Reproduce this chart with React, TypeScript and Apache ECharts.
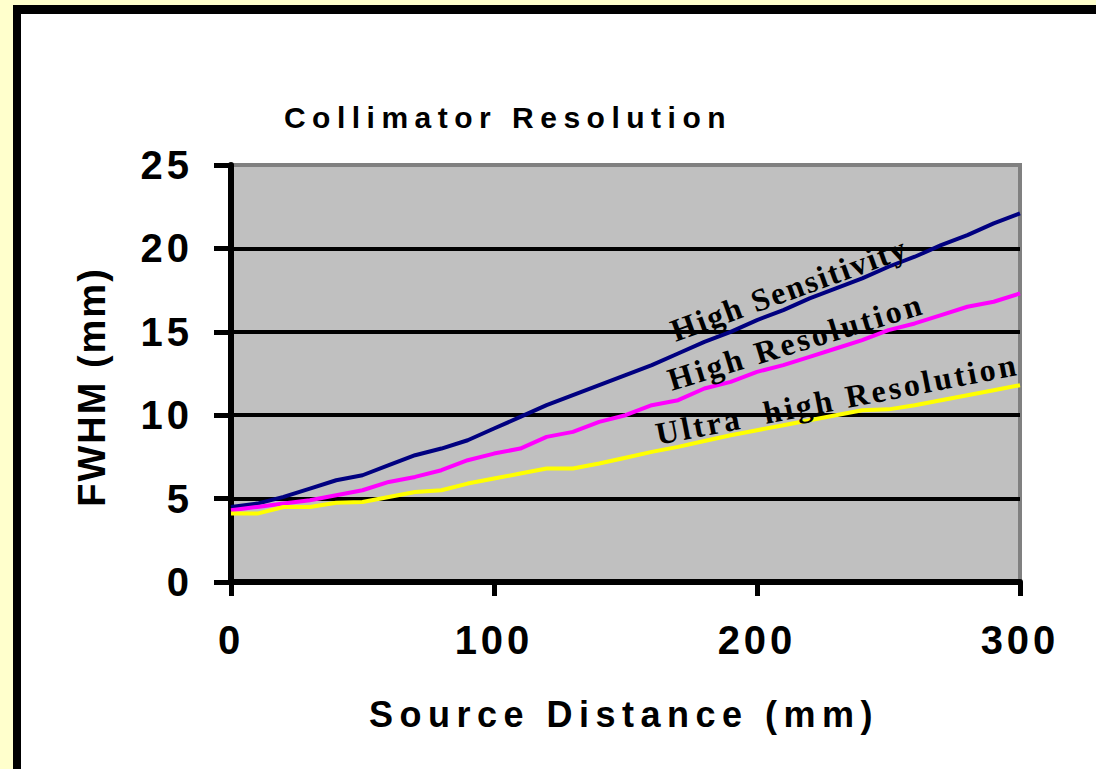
import React, { useEffect, useRef } from "react";
import * as echarts from "echarts";

// Source distance (mm)
const distances = [0, 10, 20, 30, 40, 50, 60, 70, 80, 90, 100, 110, 120, 130, 140, 150, 160, 170, 180, 190, 200, 210, 220, 230, 240, 250, 260, 270, 280, 290, 300];

// FWHM (mm) per collimator
const highSensitivity = [4.5, 4.7, 5.1, 5.6, 6.1, 6.4, 7.0, 7.6, 8.0, 8.5, 9.2, 9.9, 10.6, 11.2, 11.8, 12.4, 13.0, 13.7, 14.4, 15.0, 15.7, 16.3, 17.0, 17.6, 18.2, 18.9, 19.5, 20.2, 20.8, 21.5, 22.1];
const highResolution = [4.3, 4.5, 4.7, 4.9, 5.2, 5.5, 6.0, 6.3, 6.7, 7.3, 7.7, 8.0, 8.7, 9.0, 9.6, 10.0, 10.6, 10.9, 11.6, 12.0, 12.6, 13.0, 13.5, 14.0, 14.5, 15.1, 15.5, 16.0, 16.5, 16.8, 17.3];
const ultraHighResolution = [4.1, 4.1, 4.5, 4.5, 4.75, 4.8, 5.1, 5.4, 5.5, 5.9, 6.2, 6.5, 6.8, 6.8, 7.1, 7.45, 7.8, 8.1, 8.45, 8.8, 9.1, 9.4, 9.7, 10.0, 10.3, 10.35, 10.6, 10.9, 11.2, 11.5, 11.8];

const seriesNames = ["High Sensitivity", "High Resolution", "Ultra  high Resolution"];
const seriesColors = ["#000080", "#FF00FF", "#FFFF00"];

const chartTitle = "Collimator Resolution";
const xAxisName = "Source Distance (mm)";
const yAxisName = "FWHM (mm)";

const spacingFor = (t: string): number => {
  if (t === chartTitle) return 6.5;
  if (t === xAxisName) return 6.5;
  if (t === yAxisName) return 2;
  if (t === seriesNames[0]) return 2;
  if (t === seriesNames[1] || t === seriesNames[2]) return 3;
  if (/^\d+$/.test(t)) return 4;
  return 0;
};

export default function App() {
  const ref = useRef<HTMLDivElement>(null);

  useEffect(() => {
    const el = ref.current;
    if (!el) return;
    const chart = echarts.init(el, undefined, { renderer: "svg" });

    const applySpacing = () => {
      el.querySelectorAll("text").forEach((t) => {
        const s = spacingFor((t.textContent || "").trim());
        if (s) t.setAttribute("letter-spacing", String(s));
      });
    };
    chart.on("finished", applySpacing);

    const toPairs = (vals: number[]) => distances.map((d, i) => [d, vals[i]]);
    const sans = "'Liberation Sans', Arial, sans-serif";
    const serif = "'Liberation Serif', 'Times New Roman', serif";
    const deg = Math.PI / 180;

    chart.setOption({
      animation: false,
      backgroundColor: "transparent",
      grid: {
        left: 231,
        top: 165,
        width: 789,
        height: 417,
        show: true,
        backgroundColor: "#C0C0C0",
        borderColor: "#808080",
        borderWidth: 4,
      },
      xAxis: {
        type: "value",
        min: 0,
        max: 300,
        interval: 100,
        axisLine: { show: true, onZero: false, lineStyle: { color: "#000", width: 6 } },
        axisTick: { show: true, inside: false, length: 14, lineStyle: { color: "#000", width: 5 } },
        axisLabel: { margin: 38, fontSize: 40, fontWeight: "bold", color: "#000", fontFamily: sans },
        splitLine: { show: false },
      },
      yAxis: {
        type: "value",
        min: 0,
        max: 25,
        interval: 5,
        axisLine: { show: true, onZero: false, lineStyle: { color: "#000", width: 6 } },
        axisTick: { show: true, inside: false, length: 17, lineStyle: { color: "#000", width: 5 } },
        axisLabel: { margin: 38, fontSize: 40, fontWeight: "bold", color: "#000", fontFamily: sans },
        splitLine: { show: true, showMinLine: false, showMaxLine: false, lineStyle: { color: "#000", width: 4 } },
      },
      graphic: [
        {
          type: "text",
          x: 508,
          y: 117,
          style: { text: chartTitle, font: `bold 30px ${sans}`, fill: "#000", align: "center", verticalAlign: "middle" },
        },
        {
          type: "text",
          x: 624,
          y: 714,
          style: { text: xAxisName, font: `bold 36px ${sans}`, fill: "#000", align: "center", verticalAlign: "middle" },
        },
        {
          type: "text",
          x: 92,
          y: 387,
          rotation: Math.PI / 2,
          style: { text: yAxisName, font: `bold 38px ${sans}`, fill: "#000", align: "center", verticalAlign: "middle" },
        },
        {
          type: "text",
          x: 789,
          y: 289,
          z: 100,
          rotation: 20 * deg,
          style: { text: seriesNames[0], font: `bold 32px ${serif}`, fill: "#000", align: "center", verticalAlign: "middle" },
        },
        {
          type: "text",
          x: 796,
          y: 342,
          z: 100,
          rotation: 17 * deg,
          style: { text: seriesNames[1], font: `bold 32px ${serif}`, fill: "#000", align: "center", verticalAlign: "middle" },
        },
        {
          type: "text",
          x: 837,
          y: 399,
          z: 100,
          rotation: 11 * deg,
          style: { text: seriesNames[2], font: `bold 32px ${serif}`, fill: "#000", align: "center", verticalAlign: "middle" },
        },
      ],
      series: [
        {
          name: seriesNames[0],
          type: "line",
          data: toPairs(highSensitivity),
          showSymbol: false,
          lineStyle: { color: seriesColors[0], width: 4 },
          itemStyle: { color: seriesColors[0] },
        },
        {
          name: seriesNames[1],
          type: "line",
          data: toPairs(highResolution),
          showSymbol: false,
          lineStyle: { color: seriesColors[1], width: 4 },
          itemStyle: { color: seriesColors[1] },
        },
        {
          name: seriesNames[2],
          type: "line",
          data: toPairs(ultraHighResolution),
          showSymbol: false,
          lineStyle: { color: seriesColors[2], width: 4 },
          itemStyle: { color: seriesColors[2] },
        },
      ],
    });
    applySpacing();

    return () => {
      chart.dispose();
    };
  }, []);

  return (
    <div style={{ position: "fixed", left: 0, top: 0, width: 1096, height: 769, background: "#FFFFCC", overflow: "hidden" }}>
      <div
        style={{
          position: "absolute",
          left: 13,
          top: 5,
          width: 1200,
          height: 900,
          background: "#FFFFFF",
          borderLeft: "8px solid #000",
          borderTop: "9px solid #000",
        }}
      />
      <div ref={ref} style={{ position: "absolute", left: 0, top: 0, width: 1096, height: 769 }} />
    </div>
  );
}
